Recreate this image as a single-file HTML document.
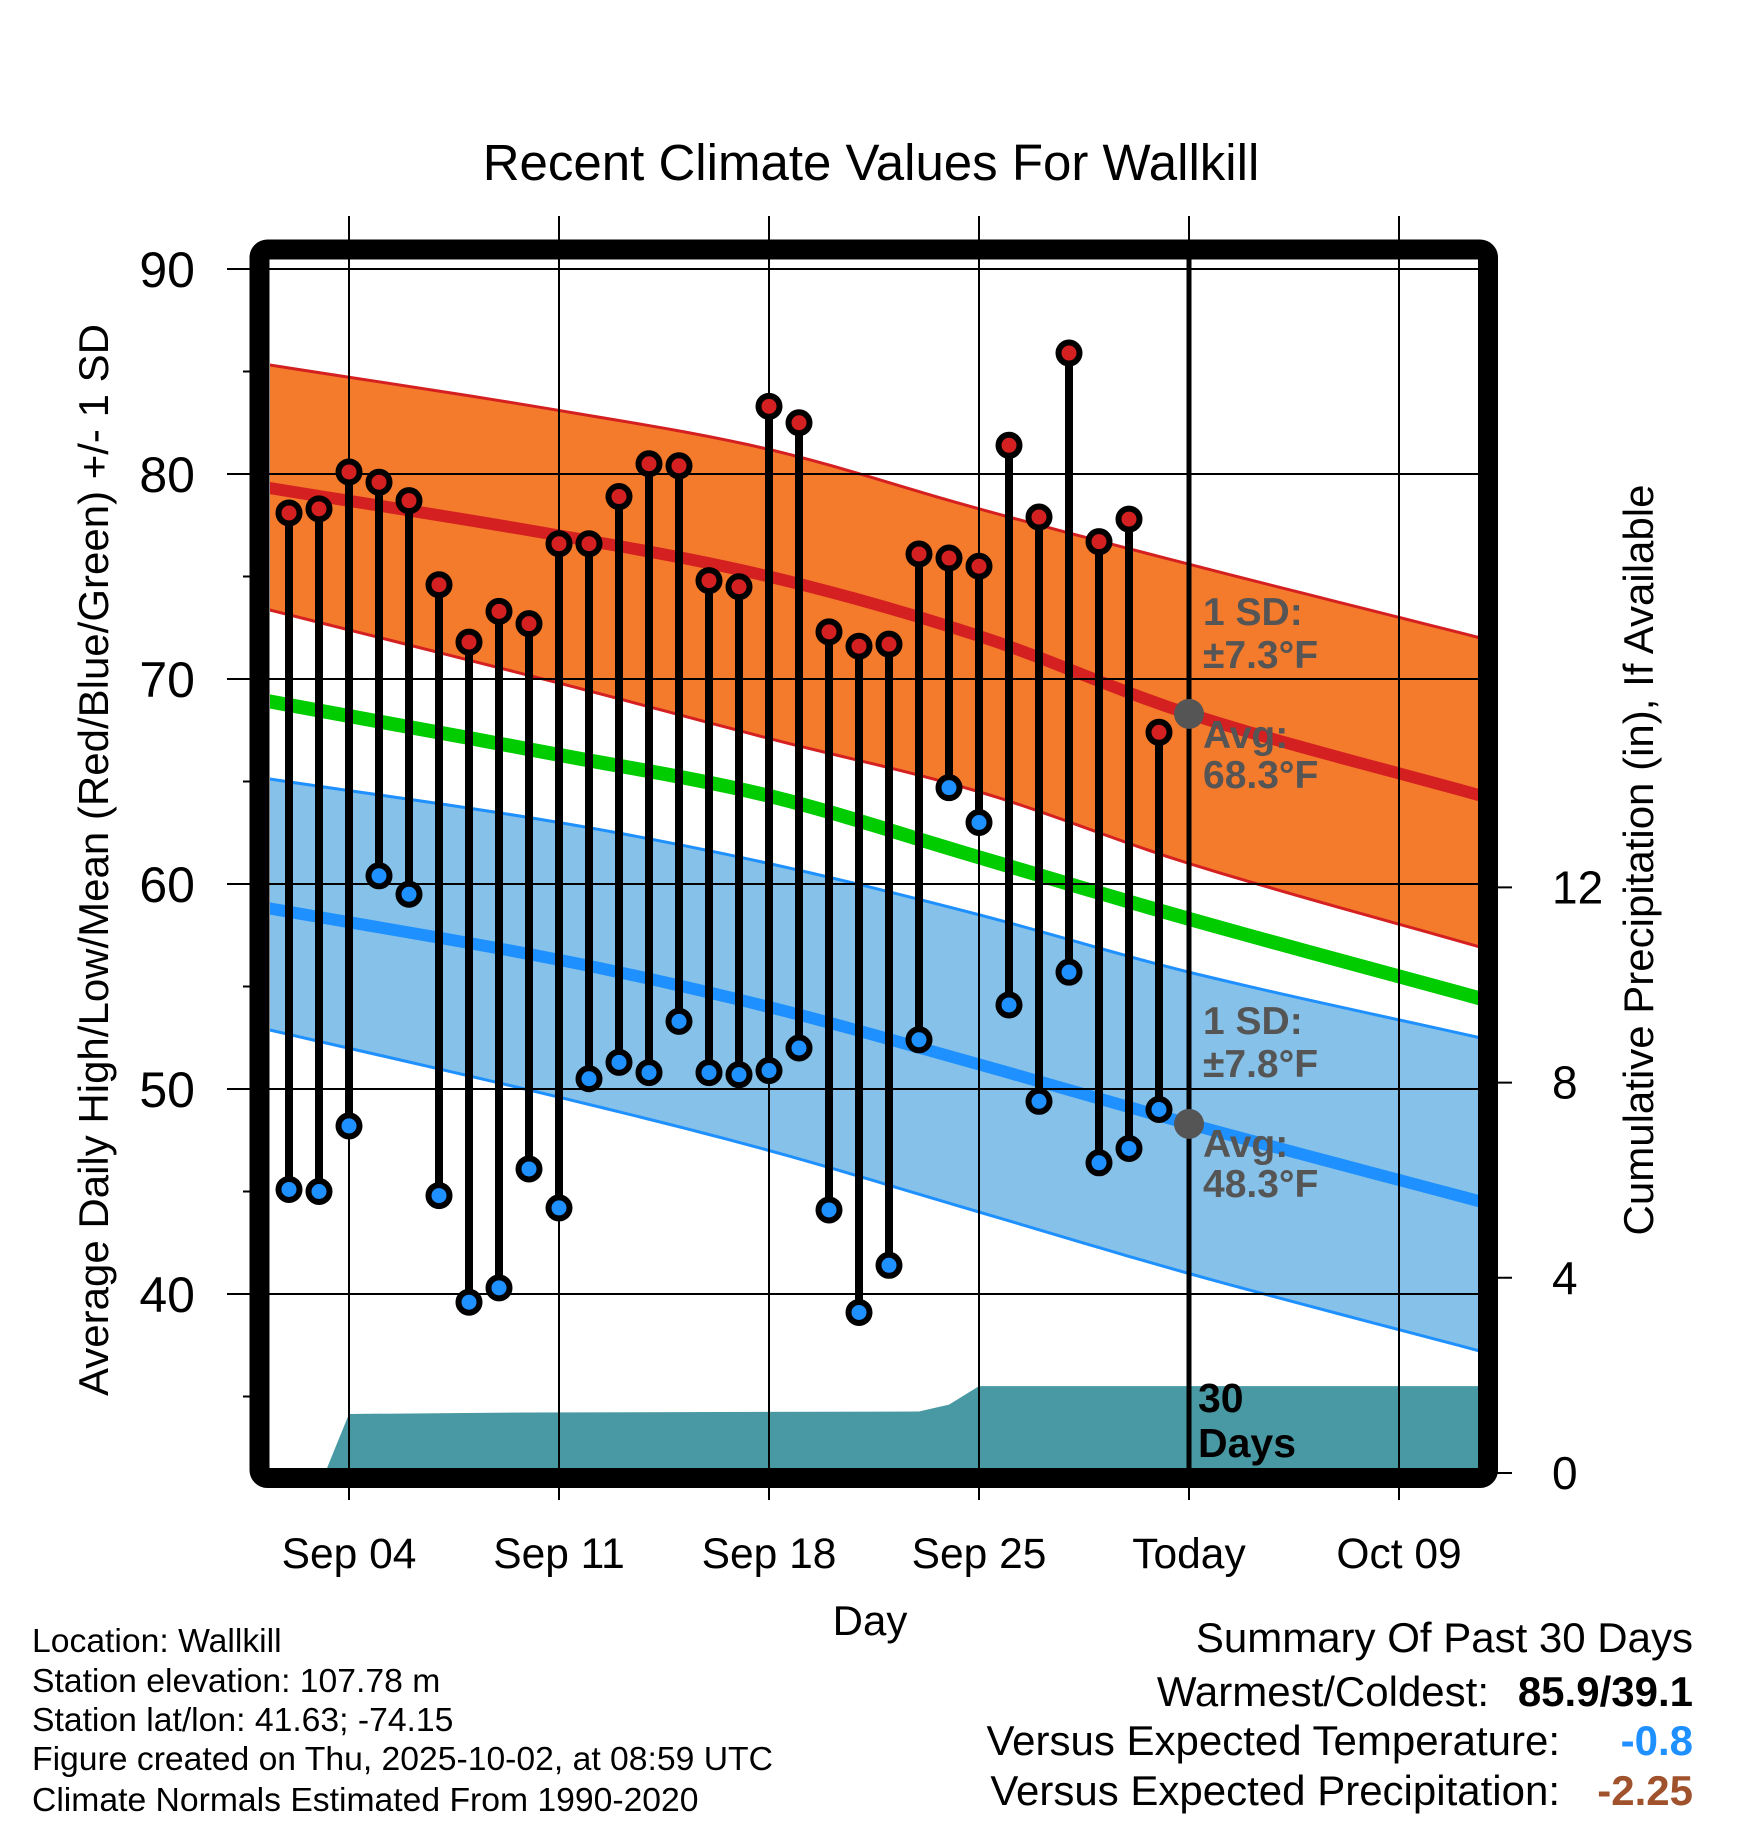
<!DOCTYPE html>
<html><head><meta charset="utf-8"><style>
html,body{margin:0;padding:0;background:#fff;}
svg{display:block;font-family:"Liberation Sans",Arial,sans-serif;}
</style></head><body>
<svg id="chart" width="1748" height="1828" viewBox="0 0 1748 1828">
<defs><clipPath id="plotclip"><rect x="270" y="260" width="1208" height="1208"/></clipPath></defs>
<g id="bg" clip-path="url(#plotclip)"></g>
<g id="grid"></g>
<g id="marks" clip-path="url(#plotclip)"></g>
<g id="axes"></g>
<g id="texts"></g>
</svg>
<script>
// ---- data ----
const normDays = [1, 11, 18, 25, 32, 42];
const hiUpper = [85.4, 83.1, 81.2, 78.3, 75.6, 71.9];
const hiAvg   = [79.4, 77.0, 75.0, 72.1, 68.3, 64.2];
const hiLower = [73.5, 69.8, 67.1, 64.5, 61.0, 56.8];
const meanAvg = [69.0, 66.3, 64.3, 61.3, 58.3, 54.3];
const loUpper = [65.2, 63.0, 61.0, 58.5, 55.7, 52.4];
const loAvg   = [58.9, 56.3, 54.0, 51.2, 48.3, 44.4];
const loLower = [53.0, 49.6, 47.0, 44.0, 41.0, 37.1];
const obsDays = [2,3,4,5,6,7,8,9,10,11,12,13,14,15,16,17,18,19,20,21,22,23,24,25,26,27,28,29,30,31];
const highs = [78.1,78.3,80.1,79.6,78.7,74.6,71.8,73.3,72.7,76.6,76.6,78.9,80.5,80.4,74.8,74.5,83.3,82.5,72.3,71.6,71.7,76.1,75.9,75.5,81.4,77.9,85.9,76.7,77.8,67.4];
const lows  = [45.1,45.0,48.2,60.4,59.5,44.8,39.6,40.3,46.1,44.2,50.5,51.3,50.8,53.3,50.8,50.7,50.9,52.0,44.1,39.1,41.4,52.4,64.7,63.0,54.1,49.4,55.7,46.4,47.1,49.0];
const precipDays = [3.2, 4, 10, 23, 24, 25, 42];
const precipCum  = [0, 1.21, 1.24, 1.26, 1.40, 1.78, 1.78];
const xTickDays = [4, 11, 18, 25, 32, 39];
const xTickLabels = ["Sep 04","Sep 11","Sep 18","Sep 25","Today","Oct 09"];
const yTicks = [40, 50, 60, 70, 80, 90];
const pTicks = [0, 4, 8, 12];
const todayDay = 32;

// ---- scales ----
const X = d => 349 + (d - 4) * 30;
const Y = t => 269 + (90 - t) * 20.5;
const P = v => 1473 - v * 48.8;
const NS = "http://www.w3.org/2000/svg";
function mk(tag, parent, attrs, txt){ const e=document.createElementNS(NS,tag); for(const k in attrs) e.setAttribute(k,attrs[k]); if(txt!==undefined) e.textContent=txt; parent.appendChild(e); return e; }
const bg=document.getElementById('bg'), grid=document.getElementById('grid'), marks=document.getElementById('marks'), axes=document.getElementById('axes');
// smooth (Catmull-Rom) sampling of a normals array
function smooth(arr){
  const out=[]; const n=normDays.length;
  for(let i=0;i<n-1;i++){
    const d0=normDays[Math.max(i-1,0)], d1=normDays[i], d2=normDays[i+1], d3=normDays[Math.min(i+2,n-1)];
    const v0=arr[Math.max(i-1,0)], v1=arr[i], v2=arr[i+1], v3=arr[Math.min(i+2,n-1)];
    const m1=(v2-v0)/(d2-d0)*(d2-d1), m2=(v3-v1)/(d3-d1)*(d2-d1);
    for(let s=0;s<10;s++){
      const t=s/10, t2=t*t, t3=t2*t;
      const v=(2*t3-3*t2+1)*v1+(t3-2*t2+t)*m1+(-2*t3+3*t2)*v2+(t3-t2)*m2;
      out.push(X(d1+(d2-d1)*t)+','+Y(v));
    }
  }
  out.push(X(normDays[n-1])+','+Y(arr[n-1]));
  return out;
}
function band(up, lo, fill, name){
  const p = smooth(up).concat(smooth(lo).reverse()).join(' ');
  const e = mk('polygon', bg, {points:p, fill:fill});
  
  
}
function line(arr, color, w, name){
  const e = mk('polyline', bg, {points:smooth(arr).join(' '), fill:'none', stroke:color, 'stroke-width':w});
  
  
}
band(hiUpper, hiLower, '#f47a2c', 'high-sd-band');
line(hiUpper, '#d42020', 3, 'high-upper-line');
line(hiLower, '#d42020', 3, 'high-lower-line');
band(loUpper, loLower, '#85c1e8', 'low-sd-band');
line(loUpper, '#1e90ff', 3, 'low-upper-line');
line(loLower, '#1e90ff', 3, 'low-lower-line');
line(hiAvg, '#d42020', 12, 'high-average-line');
line(meanAvg, '#00cc00', 14, 'mean-average-line');
line(loAvg, '#1e90ff', 12, 'low-average-line');
{
  let p = precipDays.map((d,i)=>X(d)+','+P(precipCum[i]));
  p.push(X(precipDays[precipDays.length-1])+','+P(0)); p.push(X(precipDays[0])+','+P(0));
  const e = mk('polygon', bg, {points:p.join(' '), fill:'#4899a3'});
  
  
}
xTickDays.forEach(d=>{
  const e = mk('line', grid, {x1:X(d), x2:X(d), y1:216, y2:1500, stroke:'#000', 'stroke-width':2});
  
  
});
yTicks.forEach(t=>{
  const e = mk('line', grid, {x1:227, x2:1478, y1:Y(t), y2:Y(t), stroke:'#000', 'stroke-width':2});
  
  
});
for(let t=35;t<=85;t+=10){
  const e = mk('line', grid, {x1:243, x2:259, y1:Y(t), y2:Y(t), stroke:'#000', 'stroke-width':2});
  
  
}
{
  const e = mk('line', grid, {x1:X(todayDay), x2:X(todayDay), y1:258, y2:1470, stroke:'#000', 'stroke-width':5});
  
  
}
obsDays.forEach((d,i)=>{
  const s = mk('line', marks, {x1:X(d), x2:X(d), y1:Y(highs[i]), y2:Y(lows[i]), stroke:'#000', 'stroke-width':8});
  
  
});
obsDays.forEach((d,i)=>{
  const h = mk('circle', marks, {cx:X(d), cy:Y(highs[i]), r:10.5, fill:'#d42020', stroke:'#000', 'stroke-width':6});
  
  
  const l = mk('circle', marks, {cx:X(d), cy:Y(lows[i]), r:10.5, fill:'#1e90ff', stroke:'#000', 'stroke-width':6});
  
  
});
[hiAvg, loAvg].forEach(arr=>{
  const e = mk('circle', marks, {cx:X(todayDay), cy:Y(arr[4]), r:15, fill:'#555'});
  
  
});
{
  const e = mk('rect', axes, {x:259.5, y:249.5, width:1228.5, height:1228.5, rx:8, fill:'none', stroke:'#000', 'stroke-width':20});
  
  
}
pTicks.forEach(v=>{
  const e = mk('line', axes, {x1:1488, x2:1512, y1:P(v), y2:P(v), stroke:'#000', 'stroke-width':2});
  
  
  const t = mk('text', axes, {x:1552, y:P(v)+16, 'font-size':46, 'text-anchor':'start'}, String(v));
  
  
});
yTicks.forEach(v=>{
  const t = mk('text', axes, {x:195, y:Y(v)+18, 'font-size':50, 'text-anchor':'end'}, String(v));
  
  
});
xTickDays.forEach((d,i)=>{
  const t = mk('text', axes, {x:X(d), y:1568, 'font-size':42.5, 'text-anchor':'middle'}, xTickLabels[i]);
  
  
});
</script>
<svg style="position:absolute;left:0;top:0" width="1748" height="1828">
<g font-family="Liberation Sans, Arial, sans-serif">
<text x="871" y="180" font-size="51" text-anchor="middle">Recent Climate Values For Wallkill</text>
<text transform="translate(108,860) rotate(-90)" font-size="42" text-anchor="middle">Average Daily High/Low/Mean (Red/Blue/Green) +/- 1 SD</text>
<text transform="translate(1653,860) rotate(-90)" font-size="42" text-anchor="middle">Cumulative Precipitation (in), If Available</text>
<text x="870" y="1635" font-size="42" text-anchor="middle">Day</text>
<g font-size="39" font-weight="bold" fill="#555">
<text x="1203" y="625">1 SD:</text>
<text x="1203" y="668">±7.3°F</text>
<text x="1203" y="748">Avg:</text>
<text x="1203" y="788">68.3°F</text>
<text x="1203" y="1034">1 SD:</text>
<text x="1203" y="1077">±7.8°F</text>
<text x="1203" y="1157">Avg:</text>
<text x="1203" y="1197">48.3°F</text>
</g>
<text x="1198" y="1412" font-size="41" font-weight="bold">30</text>
<text x="1198" y="1457" font-size="41" font-weight="bold">Days</text>
<g font-size="33.7">
<text x="32" y="1652">Location: Wallkill</text>
<text x="32" y="1692">Station elevation: 107.78 m</text>
<text x="32" y="1731">Station lat/lon: 41.63; -74.15</text>
<text x="32" y="1770">Figure created on Thu, 2025-10-02, at 08:59 UTC</text>
<text x="32" y="1811">Climate Normals Estimated From 1990-2020</text>
</g>
<g font-size="42" text-anchor="end">
<text x="1693" y="1652">Summary Of Past 30 Days</text>
<text x="1489" y="1706">Warmest/Coldest:</text>
<text x="1693" y="1706" font-weight="bold">85.9/39.1</text>
<text x="1560" y="1755">Versus Expected Temperature:</text>
<text x="1693" y="1755" font-weight="bold" fill="#1e90ff">-0.8</text>
<text x="1560" y="1805">Versus Expected Precipitation:</text>
<text x="1693" y="1805" font-weight="bold" fill="#a0522d">-2.25</text>
</g>
</g>
</svg>
</body></html>
